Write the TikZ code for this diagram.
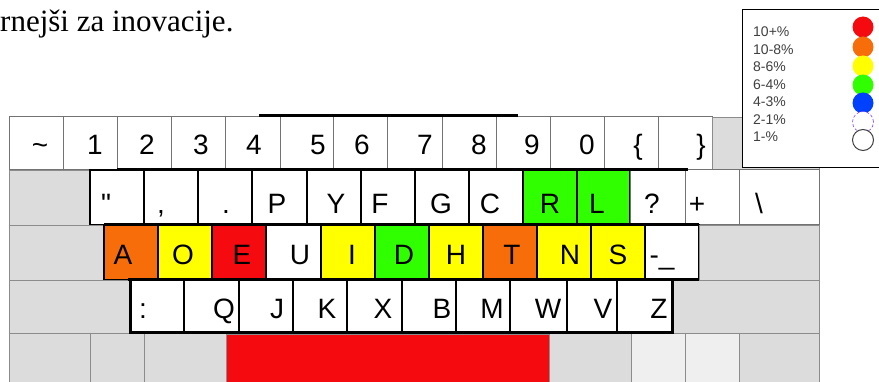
\documentclass[tikz,border=0pt]{standalone}
\usepackage{fontspec}
\setmainfont{Liberation Serif}
\newfontfamily\keyfont{Liberation Sans}
\definecolor{keygrey}{HTML}{DCDCDC}
\definecolor{keylight}{HTML}{EFEFEF}
\definecolor{kred}{HTML}{F50A0F}
\definecolor{korange}{HTML}{F76D0A}
\definecolor{kyellow}{HTML}{FFFF00}
\definecolor{kgreen}{HTML}{30FF00}
\definecolor{kblue}{HTML}{0040FF}
\definecolor{kviolet}{HTML}{8040FF}
\tikzset{
  greykey/.style={fill=keygrey, draw=black!45, line width=0.8pt},
  lightkey/.style={fill=keylight, draw=black!45, line width=0.8pt},
  numkey/.style={fill=white, draw=black!55, line width=1pt},
  wkey/.style={fill=white, draw=black, line width=1.3pt},
  ckey/.style={fill=#1, draw=black, line width=1.3pt},
  klab/.style={font=\keyfont\fontsize{28}{28}\selectfont, anchor=base, inner sep=0pt},
  leglab/.style={font=\keyfont\fontsize{14}{14}\selectfont, text=black!75, anchor=base west, inner sep=0pt},
  legdot/.style={circle, minimum size=21pt, inner sep=0pt},
  thickline/.style={line width=3pt, black}
}
\newcommand\kk[9]{\path[#6] (#2,#4) rectangle (#3,#5); \node[klab] (#1) at (#8,#9) {#7};}
\begin{document}
\begin{tikzpicture}[x=1pt, y=-1pt]
\useasboundingbox (0,0) rectangle (879,382);
\clip (0,0) rectangle (879,382);
% heading text
\node[anchor=base west, inner sep=0pt, font=\fontsize{31}{31}\selectfont] (head) at (0,32) {rnejši za inovacije.};
% row 1
\kk{k1a}{9}{63}{117}{170}{numkey}{\textasciitilde}{40}{155}
\kk{k1b}{63}{117}{117}{170}{numkey}{1}{95}{155}
\kk{k1c}{117}{171}{117}{170}{numkey}{2}{147}{155}
\kk{k1d}{171}{225}{117}{170}{numkey}{3}{201}{155}
\kk{k1e}{225}{280}{117}{170}{numkey}{4}{254}{155}
\kk{k1f}{280}{333}{117}{170}{numkey}{5}{318}{155}
\kk{k1g}{333}{387}{117}{170}{numkey}{6}{362}{155}
\kk{k1h}{387}{442}{117}{170}{numkey}{7}{425}{155}
\kk{k1i}{442}{496}{117}{170}{numkey}{8}{479}{155}
\kk{k1j}{496}{550}{117}{170}{numkey}{9}{532}{155}
\kk{k1k}{550}{604}{117}{170}{numkey}{0}{587}{155}
\kk{k1l}{604}{658}{117}{170}{numkey}{\{}{638}{155}
\kk{k1m}{658}{712}{117}{170}{numkey}{\}}{701}{155}
\path[greykey] (712,117) rectangle (819,170);
% row 2
\path[greykey] (9,170) rectangle (90,225);
\kk{k2a}{90}{144}{170}{225}{wkey}{\symbol{34}}{106}{214}
\kk{k2b}{144}{198}{170}{225}{wkey}{,}{161}{214}
\kk{k2c}{198}{252}{170}{225}{wkey}{.}{226}{214}
\kk{k2d}{252}{307}{170}{225}{wkey}{P}{277}{214}
\kk{k2e}{307}{361}{170}{225}{wkey}{Y}{336}{214}
\kk{k2f}{361}{415}{170}{225}{wkey}{F}{380}{214}
\kk{k2g}{415}{469}{170}{225}{wkey}{G}{441}{214}
\kk{k2h}{469}{523}{170}{225}{wkey}{C}{490}{214}
\kk{k2i}{523}{577}{170}{225}{ckey=kgreen}{R}{550}{214}
\kk{k2j}{577}{630}{170}{225}{ckey=kgreen}{L}{597}{214}
\kk{k2k}{630}{685}{170}{225}{numkey}{?}{652}{214}
\kk{k2l}{685}{739}{170}{225}{numkey}{+}{697}{214}
\kk{k2m}{739}{819}{170}{225}{numkey}{\textbackslash}{759}{214}
% row 3
\path[greykey] (9,225) rectangle (104,280);
\kk{k3a}{104}{158}{225}{280}{ckey=korange}{A}{123}{265}
\kk{k3b}{158}{212}{225}{280}{ckey=kyellow}{O}{183}{265}
\kk{k3c}{212}{266}{225}{280}{ckey=kred}{E}{242}{265}
\kk{k3d}{266}{321}{225}{280}{wkey}{U}{300}{265}
\kk{k3e}{321}{375}{225}{280}{ckey=kyellow}{I}{352}{265}
\kk{k3f}{375}{429}{225}{280}{ckey=kgreen}{D}{404}{265}
\kk{k3g}{429}{483}{225}{280}{ckey=kyellow}{H}{456}{265}
\kk{k3h}{483}{537}{225}{280}{ckey=korange}{T}{512}{265}
\kk{k3i}{537}{591}{225}{280}{ckey=kyellow}{N}{570}{265}
\kk{k3j}{591}{645}{225}{280}{ckey=kyellow}{S}{618}{265}
\kk{k3k}{645}{699}{225}{280}{wkey}{-\_}{662}{265}
\path[greykey] (699,225) rectangle (819,280);
% row 4
\path[greykey] (9,280) rectangle (130,333);
\kk{k4a}{130}{184}{280}{333}{wkey}{:}{143}{319}
\kk{k4b}{184}{239}{280}{333}{wkey}{Q}{224}{319}
\kk{k4c}{239}{293}{280}{333}{wkey}{J}{277}{319}
\kk{k4d}{293}{347}{280}{333}{wkey}{K}{327}{319}
\kk{k4e}{347}{402}{280}{333}{wkey}{X}{383}{319}
\kk{k4f}{402}{456}{280}{333}{wkey}{B}{442}{319}
\kk{k4g}{456}{510}{280}{333}{wkey}{M}{492}{319}
\kk{k4h}{510}{567}{280}{333}{wkey}{W}{548}{319}
\kk{k4i}{567}{617}{280}{333}{wkey}{V}{603}{319}
\kk{k4j}{617}{672}{280}{333}{wkey}{Z}{659}{319}
\path[greykey] (672,280) rectangle (819,333);
% row 5
\path[greykey] (9,333) rectangle (90,400);
\path[greykey] (90,333) rectangle (144,400);
\path[greykey] (144,333) rectangle (226,400);
\path[fill=kred, draw=black!45, line width=0.8pt] (226,334) rectangle (549,400);
\path[greykey] (549,333) rectangle (631,400);
\path[lightkey] (631,333) rectangle (685,400);
\path[lightkey] (685,333) rectangle (739,400);
\path[greykey] (739,333) rectangle (819,400);
% thick outlines
\draw[thickline] (259,116) -- (518,116);
\draw[thickline] (117,170) -- (688,170);
\draw[thickline] (104,225) -- (699,225);
\draw[thickline] (128,280) -- (699,280);
\draw[thickline] (130,280) -- (130,333) -- (672,333) -- (672,280);
% legend
\path[fill=white, draw=black, line width=1pt] (742,10) rectangle (900,168);
\node[leglab] (l1) at (753,37) {10+\%};
\node[leglab] (l2) at (753,54.5) {10-8\%};
\node[leglab] (l3) at (753,72) {8-6\%};
\node[leglab] (l4) at (753,89.5) {6-4\%};
\node[leglab] (l5) at (753,107) {4-3\%};
\node[leglab] (l6) at (753,124.5) {2-1\%};
\node[leglab] (l7) at (753,142) {1-\%};
\node[legdot, fill=kred] (c1) at (863,27) {};
\node[legdot, fill=korange] (c2) at (863,47) {};
\node[legdot, fill=kyellow] (c3) at (863,66) {};
\node[legdot, fill=kgreen] (c4) at (863,85) {};
\node[legdot, fill=kblue] (c5) at (863,103) {};
\node[legdot, fill=white, draw=kviolet, densely dashed, line width=0.6pt] (c6) at (863,122) {};
\node[legdot, fill=white, draw=black!75, line width=1pt] (c7) at (863,140) {};
\end{tikzpicture}
\end{document}
